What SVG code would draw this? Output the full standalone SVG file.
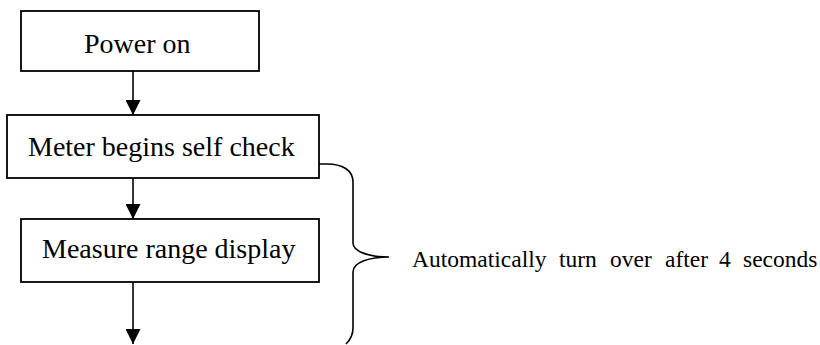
<svg xmlns="http://www.w3.org/2000/svg" width="820" height="345" viewBox="0 0 820 345">
<style>
.box{fill:#fff;stroke:#000;stroke-width:1.8}
.lbl{font-family:"Liberation Serif","Times New Roman",serif;font-size:28px;fill:#000}
.note{font-family:"Liberation Serif","Times New Roman",serif;font-size:23.5px;fill:#000}
.ln{stroke:#000;stroke-width:1.6;fill:none}
</style>
<defs>
<marker id="ah" viewBox="0 0 10 10" refX="10" refY="5" markerWidth="15" markerHeight="15" markerUnits="userSpaceOnUse" orient="auto">
<path d="M0,0 L10,5 L0,10 Z" fill="#000"/>
</marker>
</defs>
<g id="connectors">
<line class="ln" x1="133" y1="71" x2="133" y2="115" marker-end="url(#ah)"/>
<line class="ln" x1="133" y1="178" x2="133" y2="219" marker-end="url(#ah)"/>
<line class="ln" x1="133" y1="282" x2="133" y2="344" marker-end="url(#ah)"/>
</g>
<g id="n1">
<rect class="box" x="21" y="11" width="238" height="60"/>
<text class="lbl" x="84" y="53">Power on</text>
</g>
<g id="n2">
<rect class="box" x="7" y="115" width="312" height="63"/>
<text class="lbl" x="28" y="156">Meter begins self check</text>
</g>
<g id="n3">
<rect class="box" x="21" y="219" width="298" height="63"/>
<text class="lbl" x="42" y="258">Measure range display</text>
</g>
<g id="brace">
<path class="ln" d="M319,164 L327,164 C342,164 353,170 353,182 L353,243 C353,252 370,257 389,257 C370,257 353,262 353,272 L353,328 C353,336 350,340 346,344"/>
<text class="note" y="267"><tspan x="412">Automatically</tspan><tspan x="559">turn</tspan><tspan x="610">over</tspan><tspan x="665">after</tspan><tspan x="719">4</tspan><tspan x="743">seconds</tspan></text>
</g>
</svg>
